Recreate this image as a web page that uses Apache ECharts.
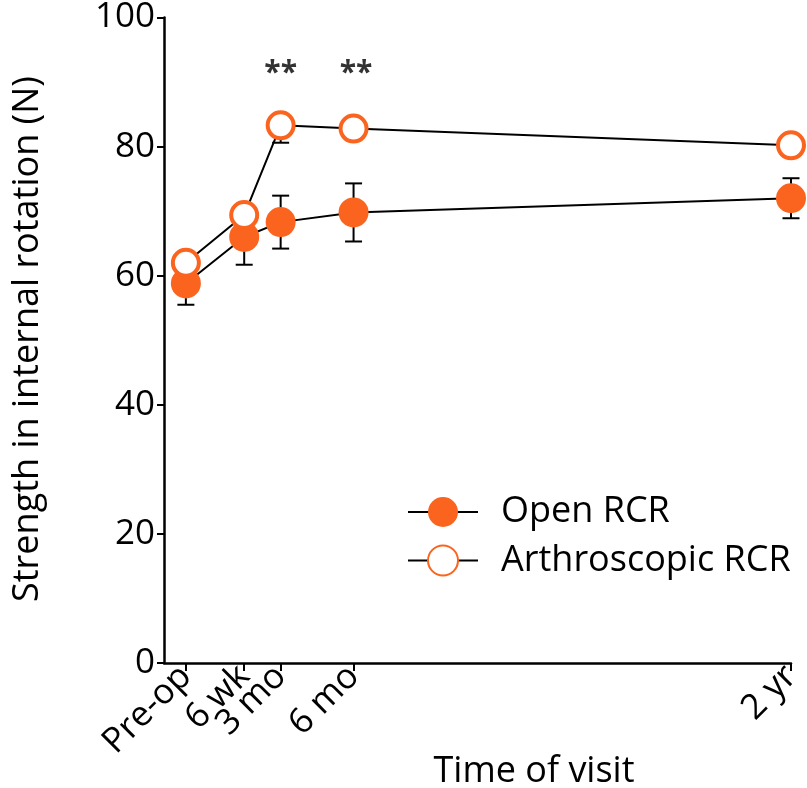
<!DOCTYPE html>
<html>
<head>
<meta charset="utf-8">
<script src="https://cdn.jsdelivr.net/npm/echarts@6/dist/echarts.min.js"></script>
<style>
html,body{margin:0;padding:0;background:#fff;}
#chart{width:807px;height:788px;}
</style>
</head>
<body>
<div id="chart"></div>
<script>
// Visit times (months; pre-op placed just before surgery)
const visitTimes = [-0.9, 1.5, 3, 6, 24];
const visitLabels = ['Pre-op', '6 wk', '3 mo', '6 mo', '2 yr'];
const openMean = [58.8, 66.0, 68.3, 69.8, 72.0];
const openErr = [3.3, 4.3, 4.1, 4.5, 3.1];
const arthroMean = [62.0, 69.4, 83.3, 82.8, 80.2];
const arthroErr = [1.8, 2.0, 2.7, 1.5, 1.5];
const starTimes = [3, 6.1];
const starValues = [91.3, 91.3];
const yTicks = [0, 20, 40, 60, 80, 100];

const ORANGE = '#FA641E';
const FONT = 'Open Sans';
const FS = 35;

const chart = echarts.init(document.getElementById('chart'));

function errData(mean, err, both) {
  return visitTimes.map((t, i) => [t, mean[i] - err[i], both ? mean[i] + err[i] : mean[i]]);
}
function makeErrRender(drawTopCap) {
  return function (params, api) {
    const x = api.value(0);
    const lo = api.coord([x, api.value(1)]);
    const hi = api.coord([x, api.value(2)]);
    const hw = 8.5;
    const st = {stroke: '#000', lineWidth: 2, fill: null};
    const kids = [
      {type: 'line', shape: {x1: lo[0], y1: lo[1], x2: hi[0], y2: hi[1]}, style: st},
      {type: 'line', shape: {x1: lo[0] - hw, y1: lo[1], x2: lo[0] + hw, y2: lo[1]}, style: st}
    ];
    if (drawTopCap) kids.push({type: 'line', shape: {x1: hi[0] - hw, y1: hi[1], x2: hi[0] + hw, y2: hi[1]}, style: st});
    return {type: 'group', children: kids};
  };
}

const labelMap = {};
visitTimes.forEach((t, i) => { labelMap[t] = visitLabels[i]; });

chart.setOption({
  animation: false,
  backgroundColor: '#fff',
  textStyle: {fontFamily: FONT},
  grid: {left: 164, right: 16, top: 15, bottom: 125, containLabel: false},
  xAxis: {
    type: 'value', min: -1.8, max: 24,
    splitLine: {show: false},
    axisLine: {show: true, onZero: false, lineStyle: {color: '#000', width: 2.5}},
    axisTick: {show: true, customValues: visitTimes, length: 8, lineStyle: {color: '#000', width: 2}},
    axisLabel: {
      show: true, customValues: visitTimes, rotate: 45, margin: 8,
      color: '#000', fontSize: FS, fontFamily: FONT,
      formatter: v => labelMap[v] || ''
    }
  },
  yAxis: {
    type: 'value', min: 0, max: 100, interval: 20,
    splitLine: {show: false},
    axisLine: {show: true, onZero: false, lineStyle: {color: '#000', width: 2.5}},
    axisTick: {show: true, length: 7, lineStyle: {color: '#000', width: 2}},
    axisLabel: {color: '#000', fontSize: FS, fontFamily: FONT, margin: 9}
  },
  legend: {
    orient: 'vertical', left: 402, top: 489,
    itemWidth: 70, itemHeight: 37.5, itemGap: 12.5,
    textStyle: {fontSize: 36, fontFamily: FONT, color: '#000', padding: [0, 0, 0, 18]},
    data: ['Open RCR', 'Arthroscopic RCR']
  },
  graphic: [
    {type: 'text', x: 28, y: 339, rotation: Math.PI / 2,
     style: {text: 'Strength in internal rotation (N)', font: '36px "' + FONT + '"', fill: '#000', align: 'center', verticalAlign: 'middle'}},
    {type: 'text', x: 534, y: 772,
     style: {text: 'Time of visit', font: '36px "' + FONT + '"', fill: '#000', align: 'center', verticalAlign: 'middle'}}
  ],
  series: [
    {type: 'custom', name: 'errOpen', renderItem: makeErrRender(true), data: errData(openMean, openErr, true), z: 1, silent: true},
    {type: 'custom', name: 'errArthro', renderItem: makeErrRender(false), data: errData(arthroMean, arthroErr, false), z: 1, silent: true},
    {
      type: 'line', name: 'Open RCR', z: 3,
      data: visitTimes.map((t, i) => [t, openMean[i]]),
      symbol: 'circle', symbolSize: 30,
      lineStyle: {color: '#000', width: 2},
      itemStyle: {color: ORANGE, borderWidth: 0}
    },
    {
      type: 'line', name: 'Arthroscopic RCR', z: 4,
      data: visitTimes.map((t, i) => [t, arthroMean[i]]),
      symbol: 'circle', symbolSize: 26,
      lineStyle: {color: '#000', width: 2},
      itemStyle: {color: '#fff', borderColor: ORANGE, borderWidth: 4}
    },
    {
      type: 'scatter', name: 'stars', z: 5, silent: true,
      symbolSize: 1, itemStyle: {color: 'rgba(0,0,0,0)'},
      data: starTimes.map((t, i) => [t, starValues[i]]),
      label: {show: true, position: 'inside', formatter: '**', fontSize: 30, fontWeight: 'bold', color: '#000', fontFamily: FONT}
    }
  ]
});
</script>
</body>
</html>
